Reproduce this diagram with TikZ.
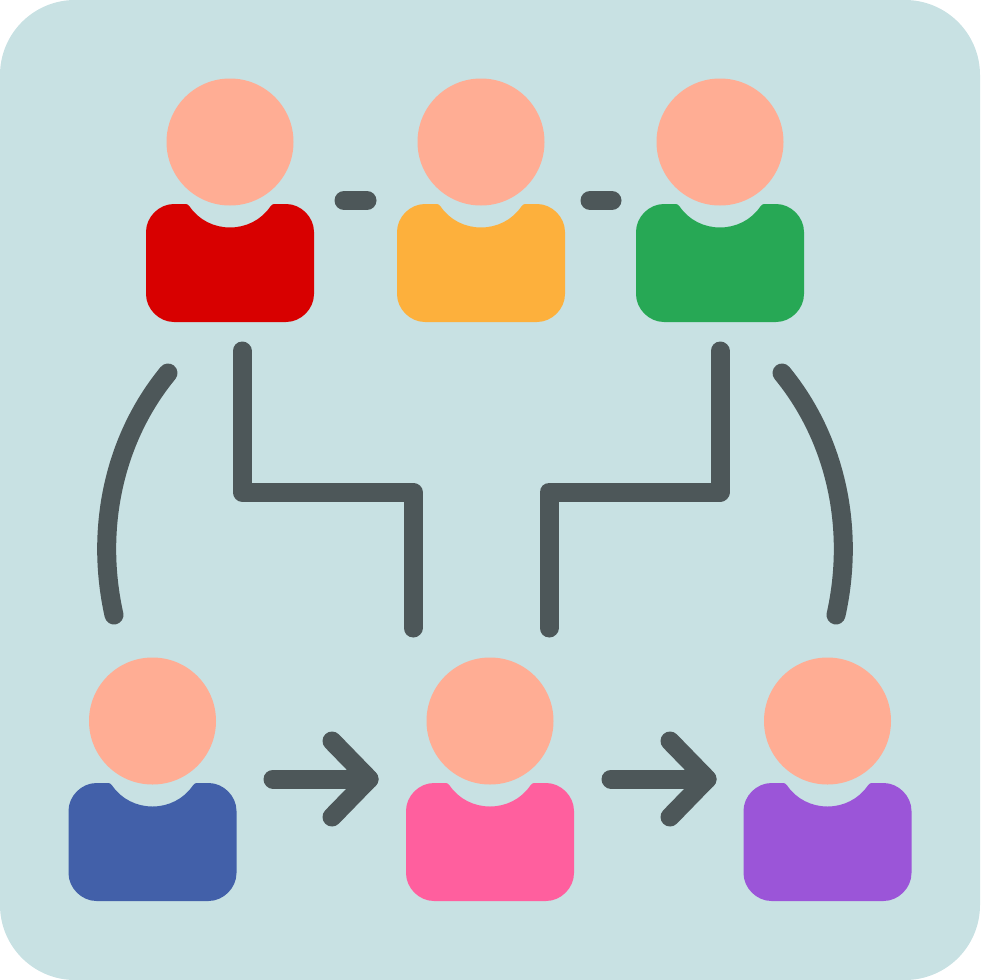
\documentclass[tikz,border=0pt]{standalone}
\definecolor{bgc}{HTML}{C8E1E3}
\definecolor{headc}{HTML}{FFAD94}
\definecolor{linec}{HTML}{4D5759}
\definecolor{c1}{HTML}{D80000}
\definecolor{c2}{HTML}{FDB03C}
\definecolor{c3}{HTML}{27A855}
\definecolor{c4}{HTML}{4260A9}
\definecolor{c5}{HTML}{FF5F9E}
\definecolor{c6}{HTML}{9B55D8}
\tikzset{conn/.style={draw=linec,line width=19pt,line cap=round,line join=round}}
\newcommand{\persondraw}[3]{%
\begin{scope}[shift={(#1,#2)}]
\fill[headc] (0,0) circle [radius=63.5];
\fill[#3] (-56,62) -- (-44,62) .. controls (-42.5,62) and (-41.5,63) .. (-40,65)
 .. controls (-31,78) and (-16,85.5) .. (0,85.5)
 .. controls (16,85.5) and (31,78) .. (40,65)
 .. controls (41.5,63) and (42.5,62) .. (44,62) -- (56,62)
 .. controls (71,62) and (84,75) .. (84,90) -- (84,152)
 .. controls (84,167) and (71,180) .. (56,180) -- (-56,180)
 .. controls (-71,180) and (-84,167) .. (-84,152) -- (-84,90)
 .. controls (-84,75) and (-71,62) .. (-56,62) -- cycle;
\end{scope}}
\begin{document}
\begin{tikzpicture}[x=1pt,y=-1pt]
\useasboundingbox (0,0) rectangle (980,980);
\fill[bgc,rounded corners=75pt] (0,0) rectangle (980,980);
\persondraw{230}{142}{c1}
\persondraw{481}{142}{c2}
\persondraw{720}{142}{c3}
\persondraw{152.5}{721}{c4}
\persondraw{490}{721}{c5}
\persondraw{827.5}{721}{c6}
% named connector ends
\coordinate (d1a) at (344,200.5); \coordinate (d1b) at (367,200.5);
\coordinate (d2a) at (590,200.5); \coordinate (d2b) at (612,200.5);
\coordinate (la) at (168,373); \coordinate (lb) at (114,615);
\coordinate (ra) at (782,373); \coordinate (rb) at (836,615);
\coordinate (e1a) at (242,351); \coordinate (e1b) at (242,492); \coordinate (e1c) at (413,492); \coordinate (e1d) at (413,628);
\coordinate (e2a) at (720,351); \coordinate (e2b) at (720,492); \coordinate (e2c) at (549,492); \coordinate (e2d) at (549,628);
\coordinate (a1s) at (273,779); \coordinate (a1t) at (369,779); \coordinate (a1u) at (332,741); \coordinate (a1v) at (332,817);
\coordinate (a2s) at (611,779); \coordinate (a2t) at (707,779); \coordinate (a2u) at (670,741); \coordinate (a2v) at (670,817);
\draw[conn] (d1a) -- (d1b);
\draw[conn] (d2a) -- (d2b);
\draw[conn] (la) .. controls (113,440) and (95,530) .. (lb);
\draw[conn] (ra) .. controls (837,440) and (855,530) .. (rb);
\draw[conn] (e1a) -- (e1b) -- (e1c) -- (e1d);
\draw[conn] (e2a) -- (e2b) -- (e2c) -- (e2d);
\draw[conn] (a1s) -- (a1t);
\draw[conn] (a1u) -- (a1t) -- (a1v);
\draw[conn] (a2s) -- (a2t);
\draw[conn] (a2u) -- (a2t) -- (a2v);
\end{tikzpicture}
\end{document}
